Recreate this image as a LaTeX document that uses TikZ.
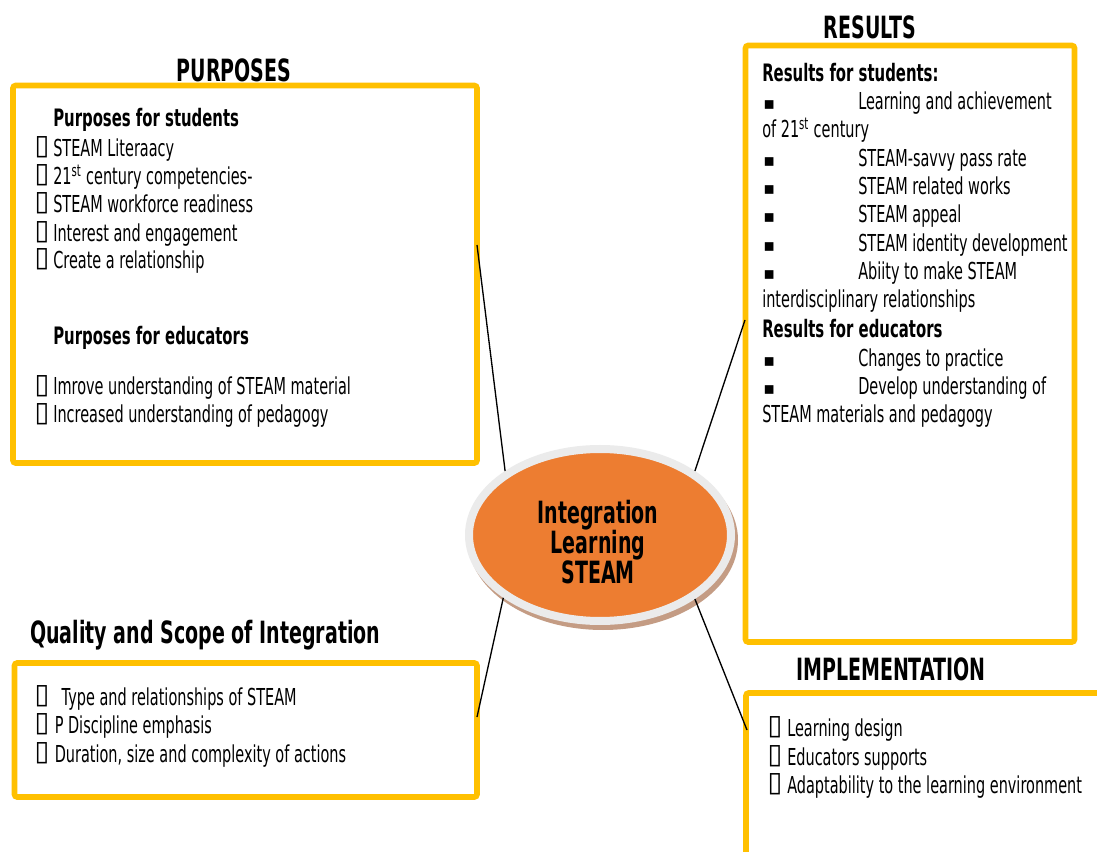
\documentclass[tikz,border=0pt]{standalone}
\usepackage{fontspec}
\usepackage{graphicx}
\setmainfont[FakeStretch=0.62]{DejaVu Sans}
\newfontfamily\symf{DejaVu Sans}
\usetikzlibrary{shapes.geometric}
\definecolor{boxy}{HTML}{FFC000}
\definecolor{orangec}{HTML}{ED7D31}
\definecolor{ringc}{HTML}{EBEBEB}
\definecolor{shadowc}{HTML}{C49C84}
\newcommand\tofuglyph{\hspace*{-1.2pt}\raisebox{1.5pt}{\scalebox{1.15}[1.2]{\symf ▯}}}
\newcommand\tofuA{\makebox[12.75pt][l]{\tofuglyph}}
\newcommand\tofuB{\makebox[19.1pt][l]{\tofuglyph}}
\newcommand\tofuC{\makebox[13.9pt][l]{\tofuglyph}}
\newcommand\tofuD{\makebox[13.5pt][l]{\tofuglyph}}
\newcommand\sqbul{\makebox[71.25pt][l]{\symf\fontsize{13}{13}\selectfont ▪}}
\begin{document}
\begin{tikzpicture}[x=0.75pt,y=-0.75pt,
  box/.style={draw=boxy, line width=4.2pt, rounded corners=2pt},
  conn/.style={draw=black, line width=1pt},
  body/.style={anchor=base west, inner sep=0pt, font=\fontsize{17.5}{21}\selectfont},
  head/.style={anchor=base west, inner sep=0pt, font=\bfseries\fontsize{18}{21}\selectfont},
  title/.style={anchor=base, inner sep=0pt, font=\bfseries\fontsize{23}{26}\selectfont},
]
\useasboundingbox (0,0) rectangle (1097,852);
\clip (0,0) rectangle (1097,852);
\fill[white] (0,0) rectangle (1097,852);

% boxes
\draw[box] (13,85.5) rectangle (477,463);
\draw[box] (745.5,45.5) rectangle (1074.5,642);
\draw[box] (14.5,663) rectangle (477,797);
\draw[box] (746,693) rectangle (1130,900);

% central ellipse
\node[ellipse, fill=shadowc, minimum width=202.5pt, minimum height=135pt, inner sep=0pt] (coreshadow) at (603,540) {};
\node[ellipse, draw=ringc, fill=orangec, line width=6pt, minimum width=196.5pt, minimum height=129pt, inner sep=0pt] (core) at (600,535) {};
\node[align=center, inner sep=0pt, font=\bfseries\fontsize{23}{22.5}\selectfont] (coretext) at (598,542) {Integration\\Learning\\STEAM};

% connectors
\coordinate (pA) at (477,245);
\coordinate (rA) at (745,320);
\coordinate (qA) at (477,717);
\coordinate (iA) at (747,730);
\draw[conn] (pA) -- (core.146);
\draw[conn] (rA) -- (core.34);
\draw[conn] (qA) -- (core.213);
\draw[conn] (iA) -- (core.326);

% purposes
\node[title] (purT) at (234,82) {PURPOSES};
\node[head] (purS) at (53,127) {Purposes for students};
\node[body] (pur1) at (36,157) {\tofuA STEAM Literaacy};
\node[body] (pur2) at (36,185) {\tofuA 21\textsuperscript{st} century competencies-};
\node[body] (pur3) at (36,213) {\tofuA STEAM workforce readiness};
\node[body] (pur4) at (36,242) {\tofuA Interest and engagement};
\node[body] (pur5) at (36,269) {\tofuA Create a relationship};
\node[head] (purE) at (53,345) {Purposes for educators};
\node[body] (pur6) at (36,395) {\tofuA Imrove understanding of STEAM material};
\node[body] (pur7) at (36,423) {\tofuA Increased understanding of pedagogy};

% results
\node[title] (resT) at (870,39) {RESULTS};
\node[head] (resS) at (762,82) {Results for students:};
\node[body] (res1) at (763,110) {\sqbul Learning and achievement};
\node[body] (res1b) at (762,138) {of 21\textsuperscript{st} century};
\node[body] (res2) at (763,167) {\sqbul STEAM-savvy pass rate};
\node[body] (res3) at (763,195) {\sqbul STEAM related works};
\node[body] (res4) at (763,223) {\sqbul STEAM appeal};
\node[body] (res5) at (763,252) {\sqbul STEAM identity development};
\node[body] (res6) at (763,280) {\sqbul Abiity to make STEAM};
\node[body] (res6b) at (762,308) {interdisciplinary relationships};
\node[head] (resE) at (762,338) {Results for educators};
\node[body] (res7) at (763,367) {\sqbul Changes to practice};
\node[body] (res8) at (763,395) {\sqbul Develop understanding of};
\node[body] (res8b) at (762,423) {STEAM materials and pedagogy};

% quality
\node[title, anchor=base west] (quaT) at (30,643) {Quality and Scope of Integration};
\node[body] (qua1) at (36,705) {\tofuB Type and relationships of STEAM};
\node[body] (qua2) at (36,733) {\tofuC P Discipline emphasis};
\node[body] (qua3) at (36,762) {\tofuC Duration, size and complexity of actions};

% implementation
\node[title] (impT) at (891,680) {IMPLEMENTATION};
\node[body] (imp1) at (769,736) {\tofuD Learning design};
\node[body] (imp2) at (769,765) {\tofuD Educators supports};
\node[body] (imp3) at (769,793) {\tofuD Adaptability to the learning environment};
\end{tikzpicture}
\end{document}
